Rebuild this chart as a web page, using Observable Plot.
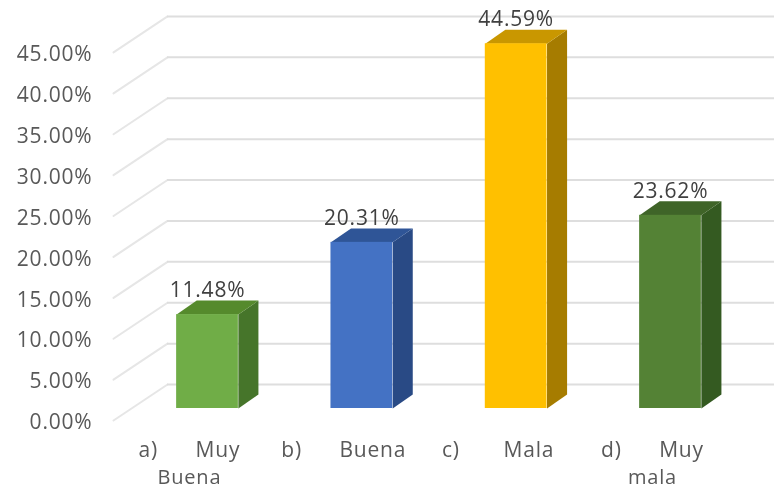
<!DOCTYPE html>
<html>
<head>
<meta charset="utf-8">
<script src="https://cdn.jsdelivr.net/npm/d3@7"></script>
<script src="https://cdn.jsdelivr.net/npm/@observablehq/plot@0.6"></script>
<style>
html,body{margin:0;padding:0;background:#fff;}
svg{display:block;}
</style>
</head>
<body>
<div id="chart"></div>
<script>
const categoryLine1 = ["a)\u00A0\u00A0\u00A0\u00A0\u00A0\u00A0Muy", "b)\u00A0\u00A0\u00A0\u00A0\u00A0\u00A0Buena", "c)\u00A0\u00A0\u00A0\u00A0\u00A0\u00A0\u00A0Mala", "d)\u00A0\u00A0\u00A0\u00A0\u00A0\u00A0Muy"];
const categoryLine2 = ["Buena", "", "", "mala"];
const values = [11.48, 20.31, 44.59, 23.62];
const frontColors = ["#70ad47", "#4472c4", "#ffc000", "#548235"];
const topColors = ["#558a2c", "#2f5597", "#c99700", "#3f6428"];
const sideColors = ["#46752a", "#294a85", "#a67c00", "#345a21"];
const ticks = [0, 5, 10, 15, 20, 25, 30, 35, 40, 45];

// 3D projection, expressed in scale units
const halfW = 0.2, depthX = 0.13, depthY = 1.71;
const wallY = 2.93, wallX = -0.259, leftX = -0.609, leftY = -1.47, rightX = 3.68;

const bars = values.map((v, i) => ({i, v, front: frontColors[i], top: topColors[i], side: sideColors[i], line1: categoryLine1[i], line2: categoryLine2[i]}));

const sidePoly = b => [
  {x: b.i + halfW, y: 0}, {x: b.i + halfW + depthX, y: depthY},
  {x: b.i + halfW + depthX, y: b.v + depthY}, {x: b.i + halfW, y: b.v}
];
const topPoly = b => [
  {x: b.i - halfW, y: b.v}, {x: b.i + halfW, y: b.v},
  {x: b.i + halfW + depthX, y: b.v + depthY}, {x: b.i - halfW + depthX, y: b.v + depthY}
];

const plot = Plot.plot({
  width: 774,
  height: 490,
  margin: 0,
  style: {background: "#fff", fontFamily: "'Open Sans', sans-serif", letterSpacing: "0.8px", filter: "blur(0.35px)"},
  x: {axis: null, domain: [-207 / 154.33, (774 - 207) / 154.33], range: [0, 774]},
  y: {domain: [-10, 50], range: [489.8, -1]},
  marks: [
    ...ticks.map(t => Plot.line([{x: leftX, y: t + leftY}, {x: wallX, y: t + wallY}], {
      x: "x", y: "y", stroke: "#e6e6e6", strokeWidth: 2
    })),
    Plot.ruleY(ticks, {y: t => t + wallY, x1: wallX, x2: rightX, stroke: "#dedede", strokeWidth: 2}),
    ...bars.map(b => Plot.line(sidePoly(b), {x: "x", y: "y", fill: b.side, stroke: "none", curve: "linear-closed"})),
    ...bars.map(b => Plot.line(topPoly(b), {x: "x", y: "y", fill: b.top, stroke: "none", curve: "linear-closed"})),
    Plot.rect(bars, {x1: d => d.i - halfW, x2: d => d.i + halfW, y1: 0, y2: "v", fill: "front"}),
    Plot.text(bars, {x: "i", y: "v", text: d => d.v.toFixed(2) + "%", dy: -24, fill: "#404040", fontSize: 21}),
    Plot.axisY(ticks, {
      anchor: "left", tickSize: 0, tickPadding: 0, dx: 92, dy: 14,
      tickFormat: t => t.toFixed(2) + "%", fill: "#595959", fontSize: 21, label: null
    }),
    Plot.text(bars, {x: d => d.i - 0.117, y: -5.1, text: "line1", fill: "#595959", fontSize: 21}),
    Plot.text(bars, {x: d => d.i - 0.117, y: -8.45, text: "line2", fill: "#595959", fontSize: 20})
  ]
});
document.getElementById("chart").append(plot);
</script>
</body>
</html>
